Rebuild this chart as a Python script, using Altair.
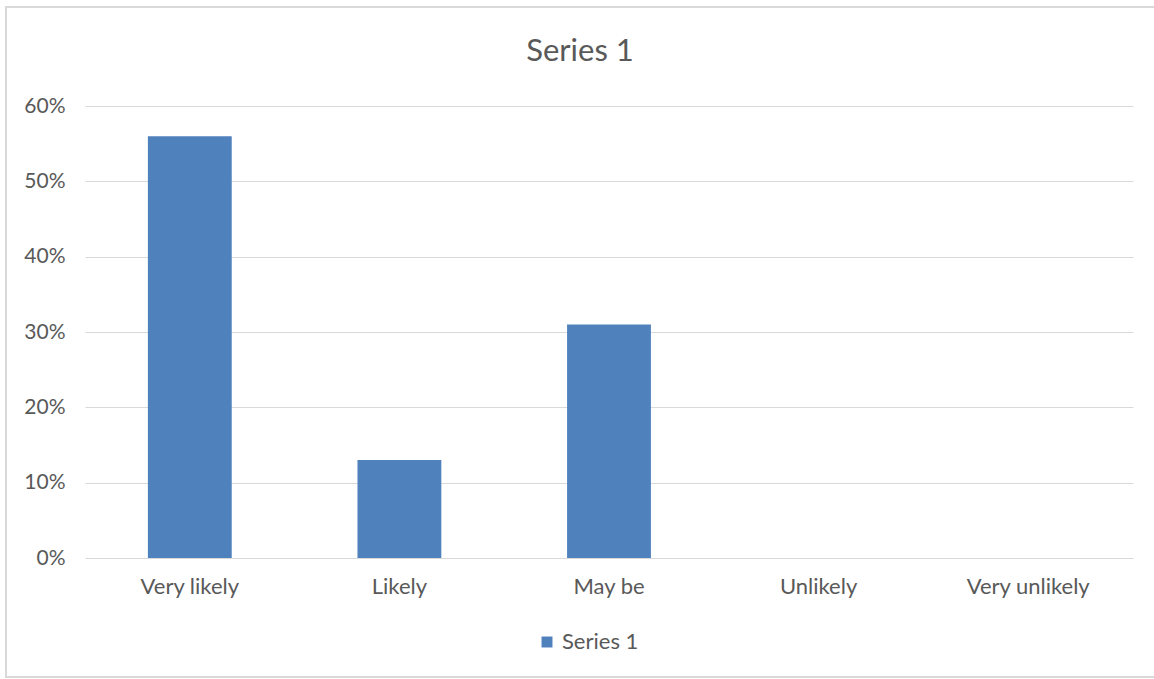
import altair as alt
import pandas as pd

categories = ["Very likely", "Likely", "May be", "Unlikely", "Very unlikely"]
values = [0.56, 0.13, 0.31, 0.0, 0.0]
series = ["Series 1"] * 5
title_text = "Series 1"

df = pd.DataFrame({"category": categories, "value": values, "series": series})

FONT = "Lato"
GRAY = "#595959"

bars = alt.Chart(df).mark_bar(color="#4f81bd").encode(
    x=alt.X("category:N", sort=categories, title=None,
            scale=alt.Scale(paddingInner=0.6, paddingOuter=0.3),
            axis=alt.Axis(labelAngle=0, domain=False, ticks=False, labelPadding=18,
                          labelFontSize=22, labelColor=GRAY, labelFont=FONT, grid=False)),
    y=alt.Y("value:Q", title=None,
            scale=alt.Scale(domain=[0, 0.6]),
            axis=alt.Axis(format=".0%", values=[0, 0.1, 0.2, 0.3, 0.4, 0.5, 0.6],
                          domain=False, ticks=False, labelPadding=20,
                          labelFontSize=21, labelColor=GRAY, labelFont=FONT,
                          gridColor="#d9d9d9", gridWidth=1.2)),
    color=alt.Color("series:N", scale=alt.Scale(range=["#4f81bd"]),
                    legend=alt.Legend(title=None, orient="none", legendX=451, legendY=525,
                                      symbolType="square", symbolSize=120,
                                      labelFontSize=22, labelColor=GRAY, labelFont=FONT,
                                      labelOffset=4, symbolStrokeWidth=0))
)

border = alt.Chart(pd.DataFrame({"a": [0]})).mark_rect(
    fill=None, stroke="#d9d9d9", strokeWidth=2
).encode(x=alt.value(-79), x2=alt.value(1100), y=alt.value(-99), y2=alt.value(571))

title = alt.Chart(pd.DataFrame({"t": [title_text]})).mark_text(
    font=FONT, fontSize=31, color=GRAY, align="center", baseline="middle"
).encode(text="t:N", x=alt.value(495), y=alt.value(-54))

chart = alt.layer(border, title, bars).properties(
    width=1048, height=452,
    background="white",
    autosize=alt.AutoSizeParams(type="none"),
    padding={"left": 85, "top": 106, "right": 21, "bottom": 121},
).configure_view(strokeWidth=0, stroke="transparent")

chart.save("out.html", embed_options={"renderer": "svg", "actions": False})
